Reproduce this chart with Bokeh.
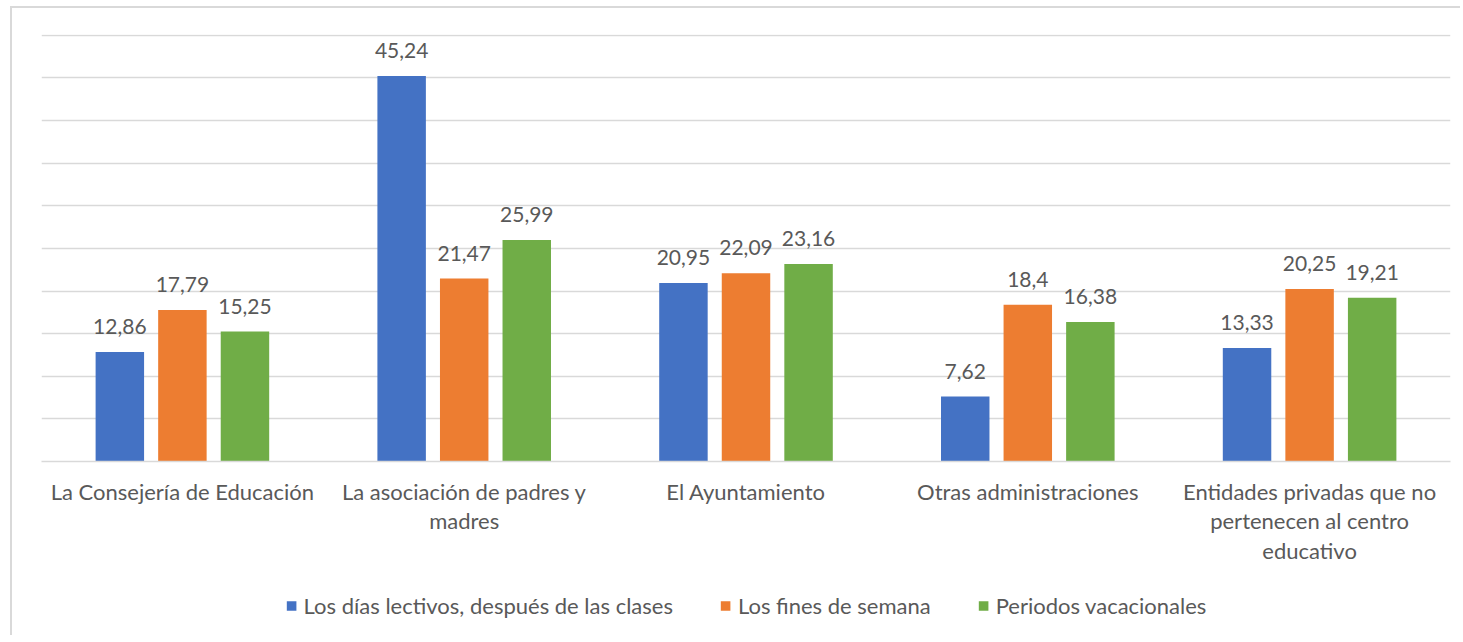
from bokeh.plotting import figure
from bokeh.models import ColumnDataSource, FactorRange, Range1d, LabelSet, Legend, LegendItem, SingleIntervalTicker
from bokeh.layouts import column
from bokeh.transform import dodge
from bokeh.core.properties import value
from bokeh.embed import file_html
from bokeh.resources import INLINE

categories = [
    "La Consejería de Educación",
    "La asociación de padres y\nmadres",
    "El Ayuntamiento",
    "Otras administraciones",
    "Entidades privadas que no\npertenecen al centro\neducativo",
]
series_names = [
    "Los días lectivos, después de las clases",
    "Los fines de semana",
    "Periodos vacacionales",
]
lectivos = [12.86, 45.24, 20.95, 7.62, 13.33]
fines = [17.79, 21.47, 22.09, 18.4, 20.25]
vacaciones = [15.25, 25.99, 23.16, 16.38, 19.21]

colors = ["#4472C4", "#ED7D31", "#70AD47"]
FONT = "Lato"
TXT = "#595959"
BORDER = "#d9d9d9"

def fmt(v):
    return str(v).replace(".", ",")

src = ColumnDataSource(dict(
    cat=categories,
    s0=lectivos, s1=fines, s2=vacaciones,
    l0=[fmt(v) for v in lectivos],
    l1=[fmt(v) for v in fines],
    l2=[fmt(v) for v in vacaciones],
))

p = figure(
    x_range=FactorRange(*categories, range_padding=0),
    y_range=Range1d(0, 50.1),
    width=1450, height=569,
    output_backend="svg", toolbar_location=None,
    min_border_left=29, min_border_right=12, min_border_top=26, min_border_bottom=116,
)
p.outline_line_color = None
p.background_fill_color = "white"
p.border_fill_color = "white"

offsets = [-0.222, 0.0, 0.222]
for i, off in enumerate(offsets):
    p.vbar(x=dodge("cat", off, range=p.x_range), top=f"s{i}", width=0.172,
           source=src, fill_color=colors[i], line_color=None)
    lbl = LabelSet(x=dodge("cat", off, range=p.x_range), y=f"s{i}", text=f"l{i}",
                   source=src, text_align="center", text_baseline="bottom",
                   y_offset=18, text_font=value(FONT), text_font_size="21px",
                   text_color=TXT)
    p.add_layout(lbl)

p.yaxis.visible = False
p.yaxis.ticker = SingleIntervalTicker(interval=5)
p.ygrid.ticker = SingleIntervalTicker(interval=5)
p.ygrid.grid_line_color = BORDER
p.ygrid.grid_line_width = 1.5
p.xgrid.grid_line_color = None

p.xaxis.axis_line_color = BORDER
p.xaxis.axis_line_width = 1.5
p.xaxis.major_tick_line_color = None
p.xaxis.minor_tick_line_color = None
p.xaxis.major_label_text_font = FONT
p.xaxis.major_label_text_font_size = "22px"
p.xaxis.major_label_text_color = TXT
p.xaxis.major_label_text_line_height = 1.1
p.xaxis.major_label_standoff = 10
p.xaxis.major_label_orientation = "horizontal"
p.styles = {"margin-left": "10px", "margin-top": "6px",
            "border-left": f"2px solid {BORDER}", "border-top": f"2px solid {BORDER}"}

# legend strip below the chart
lg = figure(
    x_range=Range1d(0, 1), y_range=Range1d(0, 1),
    width=1450, height=60,
    output_backend="svg", toolbar_location=None,
    min_border_left=24, min_border_right=0, min_border_top=0, min_border_bottom=0,
)
lg.axis.visible = False
lg.grid.grid_line_color = None
lg.outline_line_color = None
lg.border_fill_color = "white"
lg_renderers = [lg.vbar(x=[0.5], top=[0], bottom=[0], width=0.1, fill_color=colors[i], line_color=None)
                for i in range(3)]
legend = Legend(
    items=[LegendItem(label=series_names[i], renderers=[lg_renderers[i]]) for i in range(3)],
    orientation="horizontal",
    location="center",
    label_text_font=FONT, label_text_font_size="22px", label_text_color=TXT,
    glyph_width=12, glyph_height=12, spacing=46, label_standoff=7,
    border_line_color=None, background_fill_alpha=0, padding=2, margin=0,
)
lg.add_layout(legend, "center")
lg.styles = {"margin-left": "10px", "border-left": f"2px solid {BORDER}"}

layout = column(p, lg, spacing=0)
open("out.html", "w").write(file_html(layout, INLINE))
